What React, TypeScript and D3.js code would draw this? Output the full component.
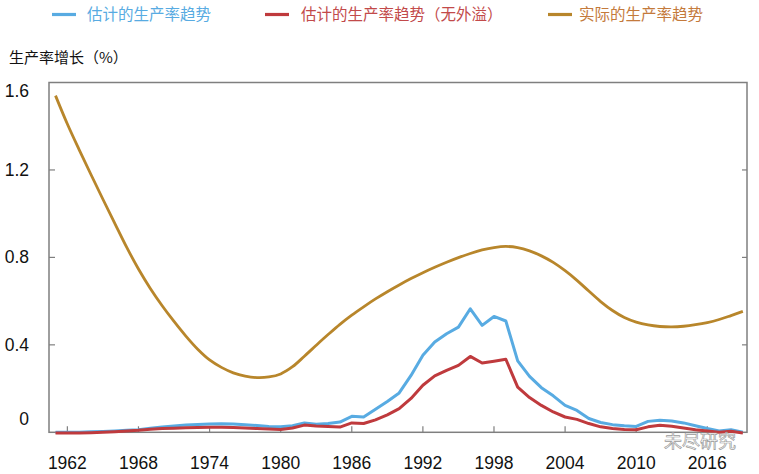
import React from "react";
import * as d3 from "d3";

const years: number[] = d3.range(1961, 2020);

const actualTrend: number[] = [
  1.54, 1.41, 1.292, 1.178, 1.066, 0.956, 0.847, 0.747, 0.658, 0.579,
  0.507, 0.44, 0.38, 0.331, 0.297, 0.272, 0.257, 0.25, 0.253, 0.267,
  0.3, 0.348, 0.398, 0.447, 0.494, 0.536, 0.574, 0.61, 0.643, 0.674,
  0.703, 0.73, 0.755, 0.778, 0.799, 0.818, 0.834, 0.845, 0.85, 0.845,
  0.83, 0.807, 0.777, 0.739, 0.695, 0.646, 0.598, 0.557, 0.525, 0.504,
  0.491, 0.484, 0.482, 0.485, 0.492, 0.502, 0.516, 0.534, 0.553,
];

const estTrend: number[] = [
  0.0, 0.0, 0.0, 0.002, 0.004, 0.006, 0.009, 0.012, 0.018, 0.024,
  0.029, 0.033, 0.036, 0.038, 0.039, 0.038, 0.035, 0.031, 0.027, 0.025,
  0.03, 0.043, 0.037, 0.04, 0.047, 0.073, 0.07, 0.105, 0.141, 0.18,
  0.26, 0.352, 0.413, 0.451, 0.481, 0.565, 0.489, 0.53, 0.509, 0.327,
  0.256, 0.204, 0.167, 0.123, 0.1, 0.063, 0.045, 0.035, 0.03, 0.027,
  0.05, 0.055, 0.052, 0.043, 0.03, 0.017, 0.006, 0.012, 0.0,
];

const estTrendNoSpill: number[] = [
  -0.003, -0.003, -0.003, -0.002, 0.0, 0.003, 0.006, 0.009, 0.014, 0.017,
  0.019, 0.021, 0.022, 0.023, 0.023, 0.022, 0.02, 0.017, 0.015, 0.013,
  0.02, 0.033, 0.029, 0.027, 0.024, 0.043, 0.04, 0.057, 0.08, 0.108,
  0.155, 0.215, 0.258, 0.283, 0.306, 0.347, 0.317, 0.325, 0.334, 0.207,
  0.159, 0.123, 0.093, 0.07, 0.059, 0.04, 0.025, 0.017, 0.013, 0.012,
  0.025, 0.032, 0.028, 0.02, 0.012, 0.006, 0.0, 0.005, -0.003,
];

const xTickYears: number[] = [1962, 1968, 1974, 1980, 1986, 1992, 1998, 2004, 2010, 2016];
const yTickValues: number[] = [0, 0.4, 0.8, 1.2, 1.6];
const yTickLabels: string[] = ["0", "0.4", "0.8", "1.2", "1.6"];

const seriesNames: string[] = ["估计的生产率趋势", "估计的生产率趋势（无外溢）", "实际的生产率趋势"];
const seriesColors: string[] = ["#58abe2", "#bf3a3d", "#b8862b"];
const legendTextColors: string[] = ["#58abe2", "#c24a4a", "#c47a3c"];
const yTitle = "生产率增长（%）";
const watermark = "未尽研究";

const W = 759;
const H = 474;
const L = 49;
const R = 747;
const T = 82.5;
const B = 432.3;

export default function App() {
  const x = d3.scaleLinear().domain([1960.45, 2019.35]).range([L, R]);
  const y = d3.scaleLinear().domain([0, 1.6]).range([B, T]);

  const linear = d3
    .line<number>()
    .x((_, i) => x(years[i]))
    .y((d) => y(d))
    .curve(d3.curveLinear);
  const smooth = d3
    .line<number>()
    .x((_, i) => x(years[i]))
    .y((d) => y(d))
    .curve(d3.curveCatmullRom.alpha(0.5));

  const numFont = "'Liberation Sans', Arial, sans-serif";
  const cjkFont = "'Noto Sans CJK SC', 'Noto Sans', sans-serif";
  const axisColor = "#7f7f7f";

  const legendItems = [
    { lx: 52, tx: 87 },
    { lx: 265, tx: 301 },
    { lx: 548, tx: 579 },
  ];

  const yLabelOffset = (v: number) => (v === 0 ? -7 : v === 1.6 ? 14.5 : 6);

  return (
    <svg width={W} height={H} style={{ position: "absolute", left: 0, top: 0, background: "#fff" }}>
      <rect x={0} y={0} width={W} height={H} fill="#fff" />
      {/* legend */}
      {legendItems.map((it, i) => (
        <g key={i}>
          <line x1={it.lx} x2={it.lx + 24} y1={14.5} y2={14.5} stroke={seriesColors[i]} strokeWidth={3.2} />
          <text x={it.tx} y={20} fontFamily={cjkFont} fontSize={15.5} fill={legendTextColors[i]}>
            {seriesNames[i]}
          </text>
        </g>
      ))}
      {/* y title */}
      <text x={9} y={63} fontFamily={cjkFont} fontSize={15} fill="#111">
        {yTitle}
      </text>
      {/* frame */}
      <rect x={L} y={T} width={R - L} height={B - T} fill="none" stroke={axisColor} strokeWidth={1.5} />
      {/* y ticks */}
      {yTickValues.map((v, i) => (
        <g key={"y" + i}>
          {v > 0 && v < 1.6 && (
            <>
              <line x1={L} x2={L + 6} y1={y(v)} y2={y(v)} stroke={axisColor} strokeWidth={1.2} />
              <line x1={R - 5} x2={R} y1={y(v)} y2={y(v)} stroke={axisColor} strokeWidth={1.2} />
            </>
          )}
          <text
            x={29}
            y={y(v) + yLabelOffset(v)}
            textAnchor="end"
            fontFamily={numFont}
            fontSize={17.5}
            fill="#111"
          >
            {yTickLabels[i]}
          </text>
        </g>
      ))}
      {/* x ticks */}
      {xTickYears.map((yr) => (
        <g key={"x" + yr}>
          <line x1={x(yr)} x2={x(yr)} y1={B} y2={B - 6} stroke={axisColor} strokeWidth={1.2} />
          <text x={x(yr)} y={469} textAnchor="middle" fontFamily={numFont} fontSize={17.5} fill="#111">
            {yr}
          </text>
        </g>
      ))}
      {/* series */}
      <path d={smooth(actualTrend) || ""} fill="none" stroke={seriesColors[2]} strokeWidth={2.8} strokeLinejoin="round" />
      <path d={linear(estTrend) || ""} fill="none" stroke={seriesColors[0]} strokeWidth={3} strokeLinejoin="round" />
      <path d={linear(estTrendNoSpill) || ""} fill="none" stroke={seriesColors[1]} strokeWidth={3} strokeLinejoin="round" />
      {/* watermark */}
      <text
        x={700}
        y={448}
        textAnchor="middle"
        fontFamily={cjkFont}
        fontSize={18}
        fill="#ffffff"
        fillOpacity={0.85}
        stroke="#9a9a9a"
        strokeWidth={0.7}
      >
        {watermark}
      </text>
    </svg>
  );
}
